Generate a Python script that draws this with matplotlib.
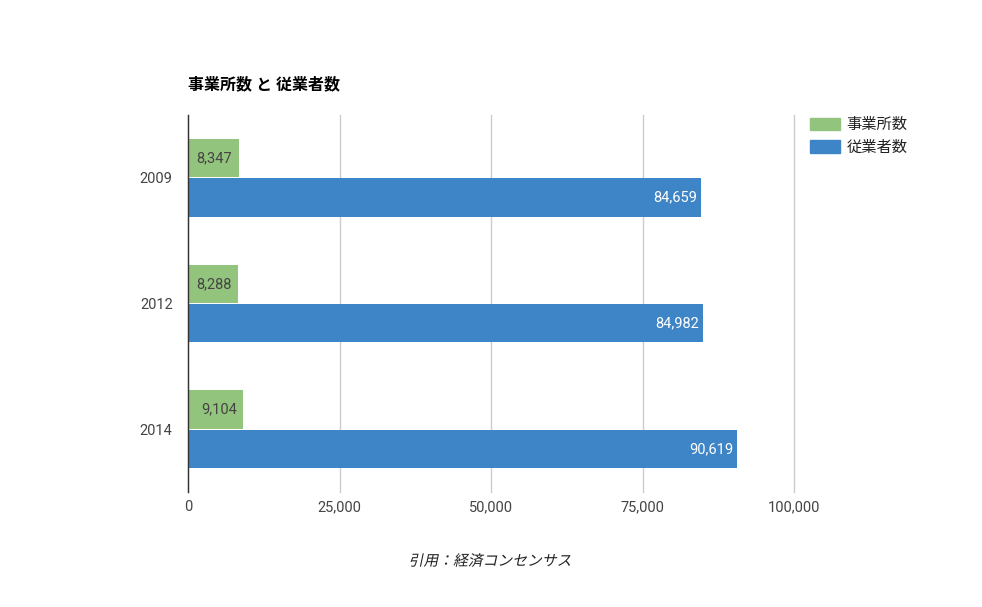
import matplotlib
matplotlib.use("Agg")
import matplotlib.pyplot as plt
from matplotlib.patches import Patch, PathPatch
from matplotlib.textpath import TextPath
from matplotlib.font_manager import FontProperties
from matplotlib.transforms import Affine2D, IdentityTransform

plt.rcParams['font.family'] = ['Roboto', 'Noto Sans CJK JP', 'DejaVu Sans']

years = ["2009", "2012", "2014"]
offices = [8347, 8288, 9104]
employees = [84659, 84982, 90619]
series_names = ["事業所数", "従業者数"]
x_ticks = [0, 25000, 50000, 75000, 100000]

green = "#93c47d"
blue = "#3d85c6"
text_gray = "#444444"

fig = plt.figure(figsize=(9.82, 6.07), dpi=100)
ax = fig.add_axes([188/982, 1-492/607, (794-188)/982, (492-115)/607])

pos = list(range(len(years)))
h = 0.305
ax.barh([p - h/2 - 0.004 for p in pos], offices, height=h, color=green)
ax.barh([p + h/2 + 0.004 for p in pos], employees, height=h, color=blue)

for p, v in zip(pos, offices):
    ax.annotate(f"{v:,}", (v, p - h/2 - 0.004), xytext=(-4.5, 0), textcoords="offset points",
                ha="right", va="center", fontsize=10.5, color=text_gray)
for p, v in zip(pos, employees):
    ax.annotate(f"{v:,}", (v, p + h/2 + 0.004), xytext=(-3, 0), textcoords="offset points",
                ha="right", va="center", fontsize=10.5, color="white")

ax.set_xlim(0, 100000)
ax.set_ylim(2.5, -0.5)
ax.set_yticks(pos)
ax.set_yticklabels(years)
ax.set_xticks(x_ticks)
ax.set_xticklabels([f"{t:,}" for t in x_ticks])
ax.tick_params(length=0, labelsize=10.5, colors=text_gray)
ax.tick_params(axis="x", pad=6)
ax.tick_params(axis="y", pad=11)
ax.grid(axis="x", color="#cccccc", linewidth=1)
for gl in ax.get_xgridlines():
    gl.set_clip_on(False)
ax.set_axisbelow(True)
for s in ["top", "right", "bottom"]:
    ax.spines[s].set_visible(False)
ax.spines["left"].set_color("#333333")
ax.spines["left"].set_linewidth(1)

fig.text(188/982, 1-84/607, "事業所数 と 従業者数", fontsize=11.5, fontweight="bold",
         color="black", va="center", ha="left")

handles = [Patch(color=green), Patch(color=blue)]
fig.legend(handles, series_names, loc="upper left", bbox_to_anchor=(796/982, 1-104/607),
           frameon=False, fontsize=11, handlelength=1.95, handleheight=0.9,
           labelspacing=0.5, handletextpad=0.45, labelcolor="#222222")

# italic source note: skewed text path (CJK font has no italic face)
src = "引用：経済コンセンサス"
tp = TextPath((0, 0), src, size=14.8, prop=FontProperties(family="Noto Sans CJK JP"))
bb = tp.get_extents()
tr = (Affine2D().translate(-(bb.x0 + bb.x1) / 2, -(bb.y0 + bb.y1) / 2)
      .skew_deg(12, 0).translate(491, 607 - 560))
fig.add_artist(PathPatch(tr.transform_path(tp), facecolor="#222222", lw=0,
                         transform=IdentityTransform()))

fig.savefig("out.png", dpi=100)
